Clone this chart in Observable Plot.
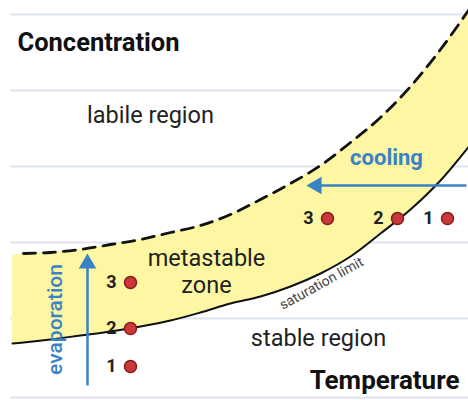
<!DOCTYPE html>
<html>
<head>
<meta charset="utf-8">
<script src="https://cdn.jsdelivr.net/npm/d3@7"></script>
<script src="https://cdn.jsdelivr.net/npm/@observablehq/plot@0.6"></script>
<style>
  html, body { margin: 0; padding: 0; background: #fff; }
  #chart svg { display: block; }
</style>
</head>
<body>
<div id="chart"></div>
<script>
// Temperature positions where both boundary curves are read
const temperature = [12, 23, 50, 80, 110, 140, 170, 200, 230, 260, 290, 320, 350, 380, 410, 440, 470];
// Saturation limit (solubility curve), concentration
const saturation = [57, 58, 61, 65, 69, 74, 80, 88, 97, 104, 114, 127, 144, 167, 191, 220, 256];
// Supersolubility (dashed) curve, concentration
const supersolubility = [145, 147, 148, 151, 156, 161, 168, 175, 186, 201, 217, 235, 258, 283, 314, 351, 393];
// Horizontal grid levels
const gridLevels = [386, 310, 234, 158, 82, 3];

// Evaporation path points (constant temperature)
const evapLabels = ["1", "2", "3"];
const evapTemp = [130, 130, 130];
const evapConc = [34, 72, 118];
// Cooling path points (constant concentration)
const coolLabels = ["1", "2", "3"];
const coolTemp = [447, 397, 327];
const coolConc = [182, 182, 182];

const curves = temperature.map((t, i) => ({t, sat: saturation[i], sup: supersolubility[i]}));
const evapPts = evapLabels.map((l, i) => ({label: l, t: evapTemp[i], c: evapConc[i]}));
const coolPts = coolLabels.map((l, i) => ({label: l, t: coolTemp[i], c: coolConc[i]}));
const pts = evapPts.concat(coolPts);

const blue = "#3a82c6";
const font = "Roboto, 'Noto Sans', sans-serif";

const chart = Plot.plot({
  width: 468,
  height: 400,
  margin: 0,
  x: {domain: [0, 468], axis: null},
  y: {domain: [0, 400], axis: null},
  style: {fontFamily: font, background: "#fff"},
  marks: [
    Plot.ruleY(gridLevels, {x1: 10, x2: 468, stroke: "#dde4ef", strokeWidth: 2}),
    Plot.areaY(curves, {x: "t", y1: "sat", y2: "sup", fill: "#fdf6a2", curve: "catmull-rom"}),
    Plot.line(curves, {x: "t", y: "sat", stroke: "#111", strokeWidth: 2, curve: "catmull-rom"}),
    Plot.line(curves.filter(d => d.t >= 23), {x: "t", y: "sup", stroke: "#111", strokeWidth: 2.8, strokeDasharray: "12,8", curve: "catmull-rom"}),
    // evaporation arrow
    Plot.link([{x: 87, y1: 15, y2: 136}], {x1: "x", x2: "x", y1: "y1", y2: "y2", stroke: blue, strokeWidth: 2.5}),
    Plot.dot([{x: 87, y: 137}], {x: "x", y: "y", symbol: "triangle", r: 6.5, fill: blue, stroke: "none"}),
    // cooling arrow
    Plot.link([{x1: 466, x2: 318, y: 215}], {x1: "x1", x2: "x2", y1: "y", y2: "y", stroke: blue, strokeWidth: 2.5}),
    Plot.dot([{x: 316, y: 215}], {x: "x", y: "y", symbol: "triangle", rotate: -90, r: 6.5, fill: blue, stroke: "none"}),
    // points
    Plot.dot(pts, {x: "t", y: "c", r: 6, fill: "#c9393b", stroke: "#8a1a1c", strokeWidth: 1.5}),
    Plot.text(pts, {x: "t", y: "c", text: "label", dx: -19, fontSize: 18, fontWeight: "bold", fill: "#222"}),
    // region labels
    Plot.text(["Concentration"], {x: 17, y: 358, fontSize: 25.5, fontWeight: "bold", fill: "#111", textAnchor: "start"}),
    Plot.text(["Temperature"], {x: 459, y: 20, fontSize: 26, fontWeight: "bold", fill: "#111", textAnchor: "end"}),
    Plot.text(["labile region"], {x: 150, y: 285, fontSize: 23.5, fill: "#222"}),
    Plot.text(["metastable", "zone"], {x: 206, y: [142, 115], fontSize: 23.5, fill: "#222"}),
    Plot.text(["stable region"], {x: 318, y: 62, fontSize: 23.5, fill: "#222"}),
    Plot.text(["cooling"], {x: 386, y: 243, fontSize: 22, fontWeight: "bold", fill: blue}),
    Plot.text(["evaporation"], {x: 55, y: 81, rotate: -90, fontSize: 21, fontWeight: 500, fill: blue}),
    Plot.text(["saturation limit"], {x: 321, y: 117, rotate: -29, fontSize: 14, fill: "#444"})
  ]
});
document.getElementById("chart").append(chart);
</script>
</body>
</html>
